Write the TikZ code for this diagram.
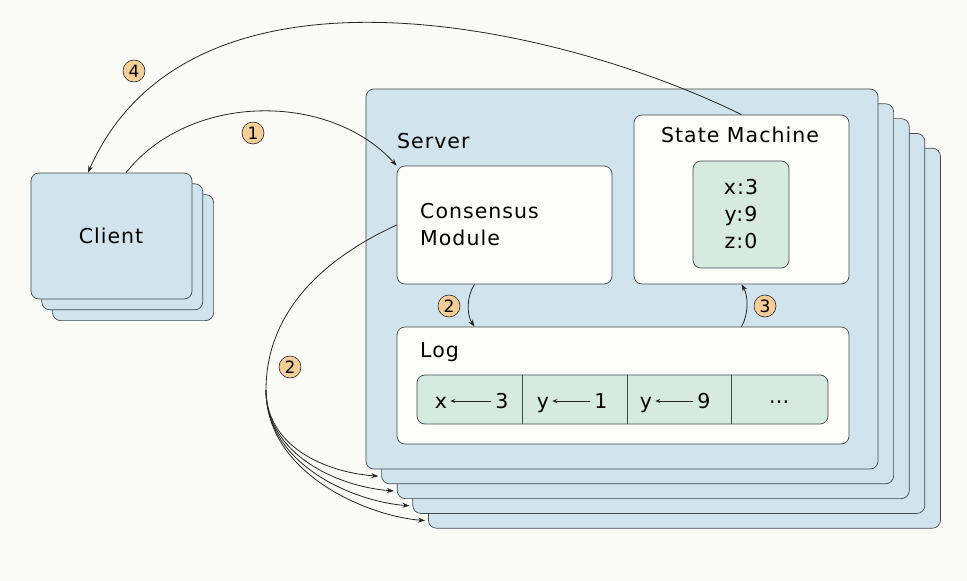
\documentclass[tikz,border=0pt]{standalone}
\usepackage{fontspec}
\setmainfont{DejaVu Sans}[LetterSpace=5]
\usepackage{tikz}
\usetikzlibrary{arrows.meta}

\definecolor{paper}{RGB}{250,250,246}
\definecolor{srvblue}{RGB}{209,227,236}
\definecolor{boxwhite}{RGB}{252,252,250}
\definecolor{entgreen}{RGB}{214,234,224}
\definecolor{badge}{RGB}{245,205,150}
\definecolor{edgecol}{RGB}{66,74,80}
\definecolor{wirecol}{RGB}{38,38,38}

\begin{document}
\begin{tikzpicture}[x=1pt, y=-1pt,
		stackbox/.style={draw=edgecol, line width=0.7pt, fill=srvblue, rounded corners=8pt, inner sep=0pt},
		inbox/.style={draw=edgecol, line width=0.7pt, fill=boxwhite, rounded corners=8pt, inner sep=0pt},
		valbox/.style={draw=edgecol, line width=0.7pt, fill=entgreen, rounded corners=8pt, inner sep=0pt},
		txt/.style={font=\fontsize{20.5}{27}\selectfont, inner sep=0pt},
		num/.style={circle, draw=wirecol, line width=0.6pt, fill=badge, minimum size=22pt, inner sep=0pt, font=\fontsize{17}{17}\selectfont},
		arr/.style={draw=wirecol, line width=0.8pt, -{Stealth[length=7pt,width=5pt]}},
		cellarr/.style={draw=wirecol, line width=0.8pt, -{Stealth[length=5pt,width=4pt]}}]
	
	\path[use as bounding box, fill=paper] (0,0) rectangle (967,581);
	
	\foreach \i in {2,1}
		\node[stackbox, minimum width=161pt, minimum height=126pt] (cli\i) at (111.5+10.8*\i, 236+10.8*\i) {};
	\node[stackbox, minimum width=161pt, minimum height=126pt] (cli) at (111.5,236) {};
	\node[txt, anchor=base] (clitxt) at (111,243) {Client};
	
	\foreach \i in {4,3,2,1}
		\node[stackbox, minimum width=512pt, minimum height=380pt] (srv\i) at (622+15.6*\i, 279+14.8*\i) {};
	\node[stackbox, minimum width=512pt, minimum height=380pt] (srv) at (622,279) {};
	\node[txt, anchor=base west] (srvtxt) at (397,148) {Server};
	
	\node[inbox, minimum width=215pt, minimum height=118pt] (cons) at (504.5,225) {};
	\node[txt, align=left, anchor=west] (constxt) at (420,225) {Consensus\\Module};
	
	\node[inbox, minimum width=215pt, minimum height=169pt] (sm) at (741.5,199.5) {};
	\node[txt, anchor=base] (smtxt) at (740,142) {State Machine};
	\node[valbox, minimum width=96pt, minimum height=107pt] (smval) at (741,214.5) {};
	\node[txt, align=center] (vals) at (741,214) {x:3\\y:9\\z:0};
	
	\node[inbox, minimum width=452pt, minimum height=117pt] (log) at (623,385.5) {};
	\node[txt, anchor=base west] (logtxt) at (420,357) {Log};
	\node[valbox, minimum width=411pt, minimum height=49pt] (strip) at (622.5,399.5) {};
	\foreach \d in {522,627,731}
		\draw[edgecol, line width=0.7pt] (\d,375) -- (\d,424);
	\foreach \v/\n/\kx/\nx [count=\k] in {x/3/441/502, y/1/543/601, y/9/646/704} {
		\node[txt, anchor=base] (key\k) at (\kx,408) {\v};
		\node[txt, anchor=base] (val\k) at (\nx,408) {\n};
		\draw[cellarr] ([xshift=-4pt,yshift=7pt]val\k.base west) -- ([xshift=3pt,yshift=7pt]key\k.base east);
	}
	\node[txt, anchor=base] (more) at (779,408) {⋯};
	
	\draw[arr] ([xshift=14.5pt]cli.north) .. controls (190,92) and (330,92) .. (cons.north west);
	\draw[arr] (sm.north) .. controls (564,27) and (191.5,-61) .. ([xshift=-23.5pt]cli.north);
	
	\coordinate (w2a) at ([xshift=-30pt]cons.south);
	\coordinate (w2b) at (w2a |- log.north);
	\draw[arr] (w2a) .. controls +(-8,12) and +(-8,-12) .. (w2b);
	\coordinate (w3a) at (sm.south |- log.north);
	\draw[arr] (w3a) .. controls +(7,-12) and +(7,12) .. (sm.south);
	
	\coordinate (fork) at (266,390);
	\draw[wirecol, line width=0.8pt] (cons.west) .. controls (342,250) and (266,300) .. (fork);
	\foreach \i in {1,...,4}
		\draw[arr] (fork) .. controls +(0,45+10*\i) and +(-55,-4) .. ([xshift=-3pt,yshift=8pt]srv\i.south west);
	
	\node[num] (b1) at (253,133) {1};
	\node[num] (b2) at (449,306) {2};
	\node[num] (b3) at (765,306) {3};
	\node[num] (b4) at (134,71) {4};
	\node[num] (b2out) at (290,367) {2};
	
\end{tikzpicture}
\end{document}
